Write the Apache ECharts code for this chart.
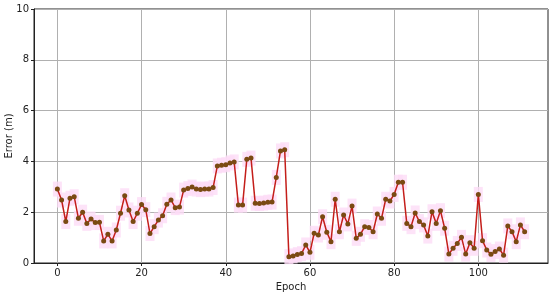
<!DOCTYPE html>
<html>
<head>
<meta charset="utf-8">
<script src="https://cdn.jsdelivr.net/npm/echarts@6/dist/echarts.min.js"></script>
<style>
  html, body { margin: 0; padding: 0; background: #fff; }
  #chart { width: 550px; height: 294px; }
</style>
</head>
<body>
<div id="chart"></div>
<script>
// error per epoch
const errors = [
  2.91, 2.48, 1.63, 2.55, 2.61, 1.76, 2.00, 1.56, 1.73, 1.59,
  1.60, 0.87, 1.13, 0.87, 1.30, 1.96, 2.65, 2.09, 1.63, 1.96,
  2.30, 2.10, 1.16, 1.43, 1.69, 1.86, 2.31, 2.48, 2.18, 2.20,
  2.87, 2.93, 2.99, 2.91, 2.89, 2.91, 2.91, 2.97, 3.82, 3.85,
  3.87, 3.94, 3.98, 2.28, 2.28, 4.08, 4.13, 2.35, 2.34, 2.36,
  2.39, 2.40, 3.37, 4.41, 4.46, 0.25, 0.28, 0.33, 0.37, 0.71,
  0.42, 1.17, 1.10, 1.82, 1.21, 0.84, 2.51, 1.23, 1.89, 1.54,
  2.24, 0.97, 1.13, 1.43, 1.40, 1.23, 1.93, 1.76, 2.51, 2.44,
  2.70, 3.18, 3.18, 1.56, 1.43, 1.97, 1.63, 1.50, 1.06, 2.02,
  1.56, 2.06, 1.37, 0.35, 0.58, 0.77, 1.01, 0.35, 0.80, 0.58,
  2.70, 0.88, 0.51, 0.34, 0.45, 0.55, 0.31, 1.46, 1.23, 0.84,
  1.50, 1.23
];
const xTicks = [0, 20, 40, 60, 80, 100];

let points = errors.map((v, i) => [i, v]);

let chart = echarts.init(document.getElementById('chart'));
chart.setOption({
    animation: false,
    textStyle: {fontFamily: 'DejaVu Sans'},
    grid: {
        left: 34, right: 2, top: 9, bottom: 31,
        outerBoundsMode: 'none',
        containLabel: false,
        show: true, borderColor: '#222', borderWidth: 1
    },
    xAxis: {
        type: 'value',
        min: -5.55,
        max: 116.55,
        name: 'Epoch',
        nameLocation: 'middle',
        nameGap: 19,
        nameMoveOverlap: false,
        nameTextStyle: {color: '#222', fontSize: 10},
        axisLine: {show: true, onZero: false, lineStyle: {color: '#222'}},
        axisTick: {show: true, length: 3, lineStyle: {color: '#222'}, customValues: xTicks},
        axisLabel: {color: '#222', fontSize: 10, margin: 5, customValues: xTicks},
        splitLine: {show: true, lineStyle: {color: '#b0b0b0', width: 1}}
    },
    yAxis: {
        type: 'value',
        min: 0,
        max: 10,
        interval: 2,
        name: 'Error (m)',
        nameLocation: 'middle',
        nameGap: 20,
        nameMoveOverlap: false,
        nameTextStyle: {color: '#222', fontSize: 10},
        axisLine: {show: true, onZero: false, lineStyle: {color: '#222'}},
        axisTick: {show: true, length: 3, lineStyle: {color: '#222'}},
        axisLabel: {color: '#222', fontSize: 10, margin: 5},
        splitLine: {show: true, lineStyle: {color: '#b0b0b0', width: 1}}
    },
    series: [
        {
            // pink uncertainty boxes behind each point
            type: 'scatter',
            data: points,
            symbol: 'rect',
            symbolSize: [9, 15],
            itemStyle: {color: '#fcdcf6'},
            z: 1
        },
        {
            type: 'line',
            data: points,
            symbol: 'circle',
            symbolSize: 5,
            lineStyle: {color: '#c41e1a', width: 1.5},
            itemStyle: {color: '#7a4a12'},
            z: 3
        }
    ]
});
</script>
</body>
</html>
